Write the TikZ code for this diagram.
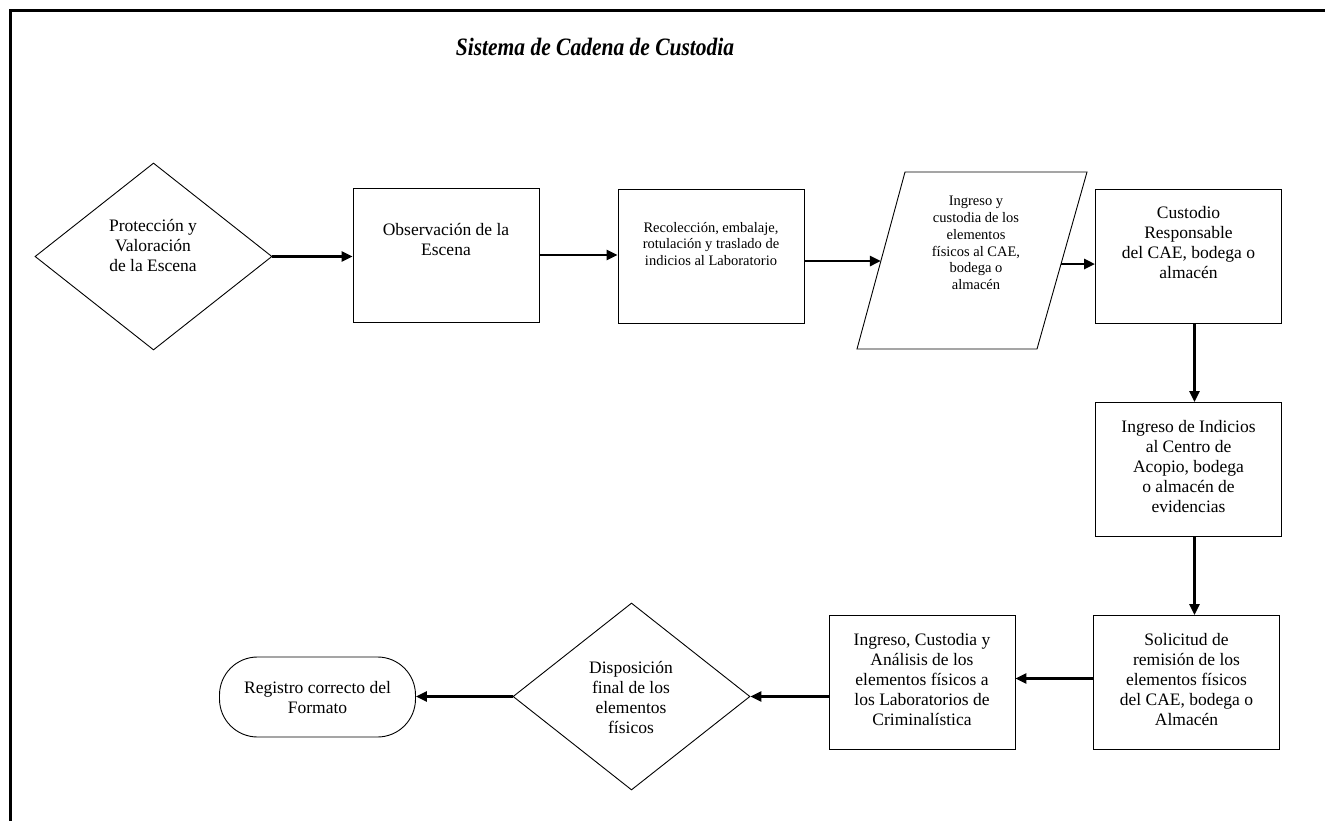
\documentclass[tikz,border=0pt]{standalone}
\usepackage{fontspec}
\setmainfont{Liberation Serif}
\usetikzlibrary{shapes.geometric,arrows.meta,calc}
\newcommand\fbig{\fontsize{17.5}{20}\selectfont}
\newcommand\fsmall{\fontsize{14.5}{16.8}\selectfont}
\begin{document}
\begin{tikzpicture}[x=1pt,y=-1pt,
  box/.style={draw, line width=0.9pt, minimum width=186pt, minimum height=134pt, inner sep=0pt},
  dia/.style={draw, diamond, line width=0.9pt, minimum width=237pt, minimum height=187pt, inner sep=0pt},
  term/.style={draw, line width=0.9pt, rounded corners=38pt, minimum width=196pt, minimum height=80pt, inner sep=0pt},
  txt/.style={align=center, inner sep=0pt, font=\fbig},
  stxt/.style={align=center, inner sep=0pt, font=\fsmall},
  arr/.style={line width=2.7pt, -{Triangle[length=11pt,width=10pt]}},
  frame/.style={line width=3pt}]
\useasboundingbox (0,0) rectangle (1325,821);
\fill[white] (0,0) rectangle (1325,821);
\draw[frame] (10,830) -- (10,11) -- (1330,11);

\node[inner sep=0pt] (title) at (595,47) {\scalebox{0.86}[1]{\fontsize{25}{28}\selectfont\bfseries\itshape Sistema de Cadena de Custodia}};

% shapes
\node[dia] (d1) at (153.5,256.5) {};
\node[box] (b2) at (446,255) {};
\node[box] (b3) at (711,256) {};
\coordinate (pTL) at (905,172);
\coordinate (pTR) at (1087,172);
\coordinate (pBR) at (1037,349);
\coordinate (pBL) at (857,349);
\draw[line width=0.9pt] (pTL) -- (pTR) -- (pBR) -- (pBL) -- cycle;
\coordinate (pin) at ($(pTL)!0.503!(pBL)$);
\coordinate (pout) at ($(pTR)!0.52!(pBR)$);
\node[box] (b5) at (1188.5,256) {};
\node[box] (b6) at (1188.5,469.5) {};
\node[box] (b7) at (1186.5,682.5) {};
\node[box] (b8) at (922,682.5) {};
\node[dia] (d2) at (631.5,696.5) {};
\node[term] (reg) at (317.5,697) {};

% texts
\node[txt] (t1) at (153,246) {Protección y\\Valoración\\de la Escena};
\node[txt] (t2) at (446,240) {Observación de la\\Escena};
\node[stxt] (t3) at (711,244) {Recolección, embalaje,\\rotulación y traslado de\\indicios al Laboratorio};
\node[stxt] (t4) at (976,243) {Ingreso y\\custodia de los\\elementos\\físicos al CAE,\\bodega o\\almacén};
\node[txt] (t5) at (1188.5,243) {Custodio\\Responsable\\del CAE, bodega o\\almacén};
\node[txt] (t6) at (1188.5,467) {Ingreso de Indicios\\al Centro de\\Acopio, bodega\\o almacén de\\evidencias};
\node[txt] (t7) at (1186.5,680) {Solicitud de\\remisión de los\\elementos físicos\\del CAE, bodega o\\Almacén};
\node[txt] (t8) at (922,680) {Ingreso, Custodia y\\Análisis de los\\elementos físicos a\\los Laboratorios de\\Criminalística};
\node[txt] (t9) at (631,697) {Disposición\\final de los\\elementos\\físicos};
\node[txt] (t10) at (317.5,698) {Registro correcto del\\Formato};

% connectors
\draw[arr] (d1.east) -- (d1.east -| b2.west);
\draw[arr] (b2.east) -- (b2.east -| b3.west);
\draw[arr] (b3.east |- pin) -- (pin);
\draw[arr] (pout) -- (pout -| b5.west);
\draw[arr] ([xshift=6pt]b5.south) -- ([xshift=6pt]b6.north);
\draw[arr] ([xshift=6pt]b6.south) -- ([xshift=6pt]b6.south |- b7.north);
\draw[arr] ([yshift=4pt]b7.west) -- ([yshift=4pt]b7.west -| b8.east);
\draw[arr] (d2.east -| b8.west) -- (d2.east);
\draw[arr] (d2.west) -- (d2.west -| reg.east);
\end{tikzpicture}
\end{document}
